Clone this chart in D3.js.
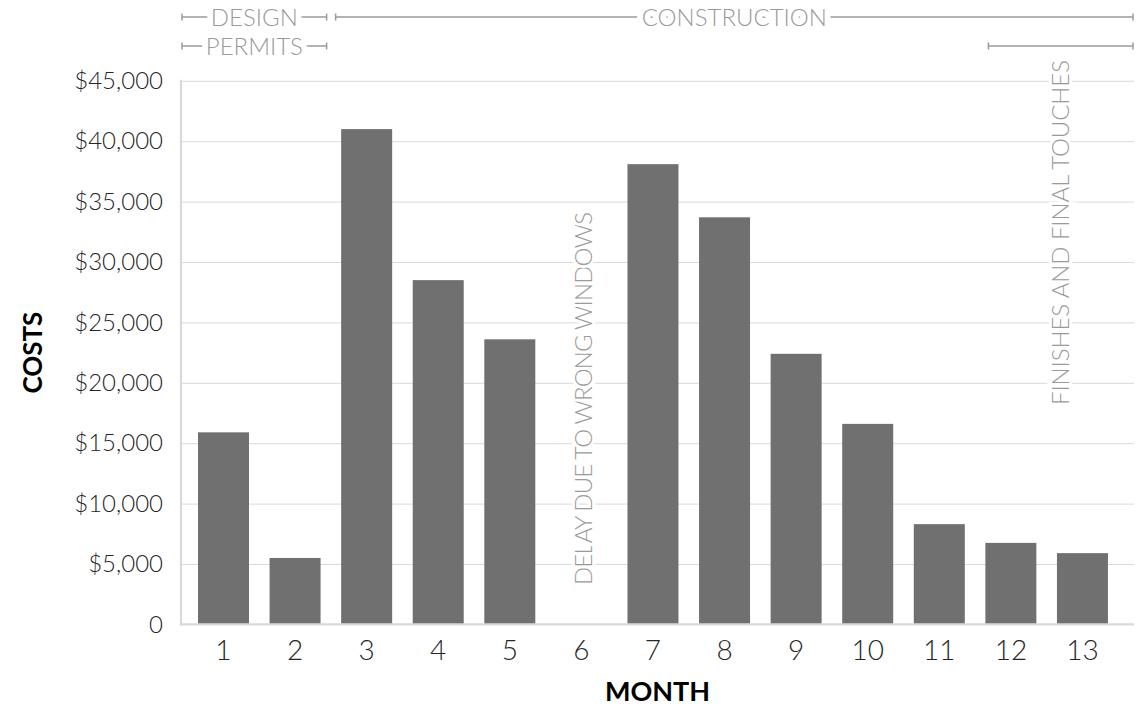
<!DOCTYPE html>
<html>
<head>
<meta charset="utf-8">
<script src="https://cdn.jsdelivr.net/npm/d3@7"></script>
<style>
  body { margin: 0; background: #fff; }
  svg text { font-family: 'Lato', 'Noto Sans', sans-serif; }
</style>
</head>
<body>
<div class="chart"></div>
<script>
// monthly construction costs
const months = ['1', '2', '3', '4', '5', '6', '7', '8', '9', '10', '11', '12', '13']
const costs = [15900, 5500, 41000, 28500, 23600, 0, 38100, 33700, 22400, 16600, 8300, 6750, 5900]
const yTicks = [0, 5000, 10000, 15000, 20000, 25000, 30000, 35000, 40000, 45000]

// project phases, in months from the start
const phaseLabels = ['DESIGN', 'PERMITS', 'CONSTRUCTION', '']
const phaseStart = [0, 0, 2, 11]
const phaseEnd = [2, 2, 13, 13]
const phaseRow = [0, 1, 0, 1]

// vertical notes
const noteLabels = ['DELAY DUE TO WRONG WINDOWS', 'FINISHES AND FINAL TOUCHES']

const W = 1143, H = 708
const plotLeft = 181, plotRight = 1134, plotTop = 80.8, plotBottom = 624.4

const svg = d3.select('.chart')
  .append('svg')
  .attr('width', W)
  .attr('height', H)

const y = d3.scaleLinear()
  .domain([0, 45000])
  .range([plotBottom, plotTop])

const step = 71.58
const x = d3.scaleBand()
  .domain(months)
  .range([187.7, 187.7 + step * months.length])
  .paddingInner(0.2875)
  .paddingOuter(0.14375)

// timeline for the phase brackets
const t = d3.scaleLinear()
  .domain([0, 13])
  .range([plotLeft, plotRight])

// gridlines
svg.append('g')
  .attr('transform', `translate(${plotLeft},0)`)
  .call(d3.axisLeft(y).tickValues(yTicks.slice(1)).tickSize(-(plotRight - plotLeft)).tickFormat(''))
  .call(g => g.select('.domain').remove())
  .call(g => g.selectAll('line').attr('stroke', '#d9d9d9').attr('stroke-width', 1))

// y labels
svg.append('g')
  .attr('transform', `translate(${plotLeft},0)`)
  .call(d3.axisLeft(y).tickValues(yTicks).tickSize(0).tickPadding(18)
    .tickFormat(d => d === 0 ? '0' : '$' + d3.format(',')(d)))
  .call(g => g.select('.domain').remove())
  .call(g => g.selectAll('text')
    .attr('font-size', 24)
    .attr('font-weight', 300)
    .attr('fill', '#262626')
    .style('font-family', "'Lato', sans-serif"))

// bars
svg.append('g')
  .selectAll('rect')
  .data(costs)
  .join('rect')
  .attr('x', (d, i) => x(months[i]))
  .attr('width', x.bandwidth())
  .attr('y', d => y(d))
  .attr('height', d => y(0) - y(d))
  .attr('fill', '#707070')

// axis lines
svg.append('line')
  .attr('x1', plotLeft).attr('x2', plotLeft)
  .attr('y1', plotTop - 1).attr('y2', plotBottom + 1)
  .attr('stroke', '#d9d9d9').attr('stroke-width', 2.2)
svg.append('line')
  .attr('x1', plotLeft - 1).attr('x2', plotRight)
  .attr('y1', plotBottom).attr('y2', plotBottom)
  .attr('stroke', '#d9d9d9').attr('stroke-width', 2.2)

// x labels
svg.append('g')
  .attr('transform', `translate(0,${plotBottom})`)
  .call(d3.axisBottom(x).tickSize(0).tickPadding(16))
  .call(g => g.select('.domain').remove())
  .call(g => g.selectAll('text')
    .attr('font-size', 28)
    .attr('font-weight', 300)
    .attr('fill', '#262626')
    .style('font-family', "'Lato', sans-serif"))

// axis titles
svg.append('text')
  .attr('transform', `translate(33,${(plotTop + plotBottom) / 2}) rotate(-90)`)
  .attr('text-anchor', 'middle')
  .attr('dy', '0.35em')
  .attr('font-size', 26)
  .attr('font-weight', 700)
  .attr('fill', '#000')
  .text('COSTS')

svg.append('text')
  .attr('x', (plotLeft + plotRight) / 2)
  .attr('y', 701)
  .attr('text-anchor', 'middle')
  .attr('font-size', 27)
  .attr('font-weight', 700)
  .attr('fill', '#000')
  .text('MONTH')

// phase brackets
const annoColor = '#9a9a9a'
const rowY = [17, 46]
const bracket = svg.append('g')
phaseLabels.forEach((label, i) => {
  const x0 = t(phaseStart[i]) + (phaseStart[i] > 0 && phaseRow[i] === 0 ? 8 : 1)
  const x1 = t(phaseEnd[i]) - 1
  const yy = rowY[phaseRow[i]]
  const g = bracket.append('g')
  g.append('line').attr('x1', x0).attr('x2', x1).attr('y1', yy).attr('y2', yy)
    .attr('stroke', annoColor).attr('stroke-width', 1.5)
  g.selectAll('.cap').data([x0, x1]).join('line')
    .attr('x1', d => d).attr('x2', d => d)
    .attr('y1', yy - 3.5).attr('y2', yy + 3.5)
    .attr('stroke', annoColor).attr('stroke-width', 1.5)
  if (label) {
    g.append('text')
      .attr('x', (x0 + x1) / 2)
      .attr('y', yy)
      .attr('dy', '0.36em')
      .attr('text-anchor', 'middle')
      .attr('font-size', 24)
      .attr('font-weight', 300)
      .attr('fill', annoColor)
      .attr('stroke', '#fff')
      .attr('stroke-width', 12)
      .attr('paint-order', 'stroke')
      .text(label)
  }
})

// vertical notes
const noteX = [x('6') + x.bandwidth() / 2 + 2, (t(11) + t(13)) / 2]
const noteY = [585, 405]
const noteLen = [373, 345]
noteLabels.forEach((label, i) => {
  svg.append('text')
    .attr('transform', `translate(${noteX[i]},${noteY[i]}) rotate(-90)`)
    .attr('dy', '0.36em')
    .attr('font-size', 24)
    .attr('font-weight', 300)
    .attr('fill', annoColor)
    .attr('stroke', '#fff')
    .attr('stroke-width', 6)
    .attr('paint-order', 'stroke')
    .attr('textLength', noteLen[i])
    .attr('lengthAdjust', 'spacing')
    .text(label)
})
</script>
</body>
</html>
